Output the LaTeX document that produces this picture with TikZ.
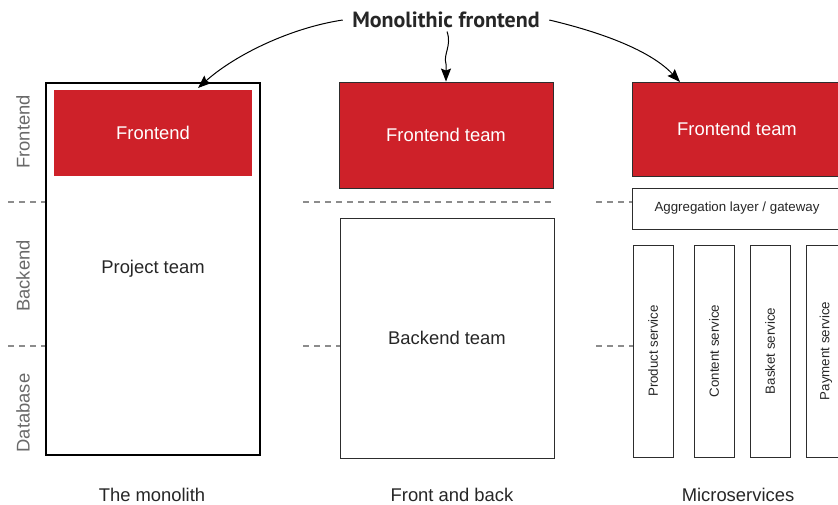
\documentclass[tikz,border=0pt]{standalone}
\usepackage{fontspec}
\setmainfont{Liberation Sans}
\newfontfamily\titlefont{PT Sans}
\usetikzlibrary{arrows.meta,positioning,calc}
\definecolor{teamred}{RGB}{206,33,41}
\definecolor{linegray}{RGB}{140,140,140}
\definecolor{labelgray}{RGB}{105,105,105}
\definecolor{boxline}{RGB}{45,45,45}

\begin{document}
\begin{tikzpicture}[x=1pt,y=-1pt,
    redbox/.style={fill=teamred,inner sep=0pt,text=white,font=\fontsize{18.4}{21}\selectfont},
    teambox/.style={draw=boxline,line width=0.9pt,inner sep=0pt,text=black!85,font=\fontsize{18.4}{21}\selectfont},
    svcbox/.style={draw=boxline,line width=0.9pt,inner sep=0pt,rotate=90,minimum width=212pt,minimum height=40pt,text=black!85,font=\fontsize{13.3}{15}\selectfont},
    layer/.style={rotate=90,text=labelgray,font=\fontsize{18.4}{21}\selectfont},
    sep/.style={draw=linegray,dash pattern=on 6pt off 5pt,line width=1.1pt},
    caption/.style={inner sep=0pt,text=black!85,font=\fontsize{18.4}{21}\selectfont},
    pointer/.style={-{Stealth[length=13pt,width=10pt,inset=2pt]},line width=1pt}]
        \useasboundingbox (0,0) rectangle (838,505);
        \clip (0,0) rectangle (838,505);
        % The monolith
        \draw (23,132) node[layer] (lay_fe){Frontend};
        \draw (23,276) node[layer] (lay_be){Backend};
        \draw (23,413) node[layer] (lay_db){Database};
        \draw (153,269) node[teambox,draw=black,line width=1.1pt,minimum width=214pt,minimum height=372pt] (mono){Project team};
        \draw (153,133) node[redbox,minimum width=198pt,minimum height=86pt] (mono_fe){Frontend};
        \draw[sep] (8,202) -- (mono.west |- 0,202) (8,346) -- (mono.west |- 0,346);
        % Front and back
        \draw (446,135) node[redbox,draw=boxline,line width=0.9pt,minimum width=214pt,minimum height=106pt] (back_fe){Frontend team};
        \draw (447,338) node[teambox,minimum width=214pt,minimum height=240pt] (back_be){Backend team};
        \draw[sep] (303,202) -- (back_be.east |- 0,202) (303,346) -- (back_be.west |- 0,346);
        % Microservices
        \draw (737,129) node[redbox,draw=boxline,line width=0.9pt,minimum width=210pt,minimum height=94pt] (micro_fe){Frontend team};
        \draw (737,208.5) node[teambox,minimum width=210pt,minimum height=41pt,font=\fontsize{13.3}{15}\selectfont] (agg){Aggregation layer / gateway};
        \draw (653,351) node[svcbox] (prod){Product service};
        \draw (714,351) node[svcbox] (cont){Content service};
        \draw (770,351) node[svcbox] (bask){Basket service};
        \draw (826,351) node[svcbox] (pay){Payment service};
        \draw[sep] (596,202) -- (agg.west |- 0,202) (596,346) -- (prod.north |- 0,346);
        % captions
        \draw (152,495) node[caption] (cap_mono){The monolith};
        \draw (452,495) node[caption] (cap_back){Front and back};
        \draw (738,495) node[caption] (cap_micro){Microservices};
        % Monolithic frontend pointers
        \draw (446,20) node[font=\titlefont\bfseries\fontsize{22}{25}\selectfont,text=black!85] (title){Monolithic frontend};
        \coordinate (mono_tip) at (198,88);
        \coordinate (micro_tip) at (680,82);
        \draw[pointer] ([xshift=-6pt]title.west) .. controls (290,28) and (235,55) .. (mono_tip);
        \draw[pointer] ([xshift=1pt]title.south) .. controls (452,46) and (443,54) .. (446,64) -- (back_fe.north);
        \draw[pointer] ([xshift=6pt]title.east) .. controls (600,32) and (650,50) .. (micro_tip);
      \end{tikzpicture}
\end{document}
